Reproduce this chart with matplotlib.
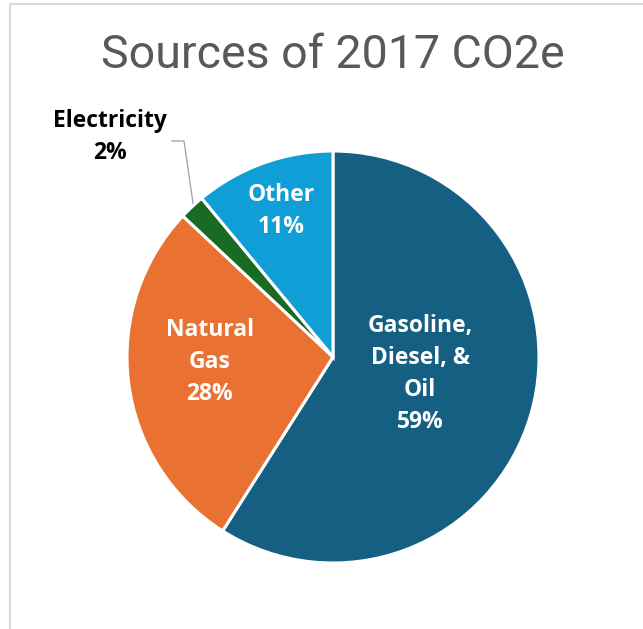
import matplotlib.pyplot as plt
from matplotlib.lines import Line2D

labels = ['Gasoline,\nDiesel, &\nOil', 'Natural\nGas', 'Electricity', 'Other']
shares = [59, 28, 2, 11]
colors = ['#156082', '#E97132', '#196B24', '#0F9ED5']

W, H = 643, 629
cx, cy, r = 333, 357, 206  # pie centre and radius in pixels


def px(x, y):
    # pixel position -> data coords of the pie (radius 1)
    return (x - cx) / r, (cy - y) / r


fig = plt.figure(figsize=(W / 100, H / 100), dpi=100)
ax = fig.add_axes([0, 0, 1, 1])

wedges, _ = ax.pie(shares, colors=colors, startangle=90, counterclock=False,
                   wedgeprops=dict(edgecolor='white', linewidth=2.2))
ax.set_aspect('auto')
ax.set_xlim(px(0, 0)[0], px(W, 0)[0])
ax.set_ylim(px(0, H)[1], px(0, 0)[1])
ax.axis('off')

lab_pos = [px(420, 374), px(210, 362), px(110, 137), px(281, 211)]
txt_col = ['white', 'white', 'black', 'white']
for lab, val, pos, c in zip(labels, shares, lab_pos, txt_col):
    ax.text(pos[0], pos[1], f'{lab}\n{val}%', ha='center', va='center',
            fontsize=16.5, fontweight='bold', color=c, family='Open Sans',
            linespacing=1.44)

# leader line for the small slice
lx, ly = zip(px(172, 141), px(184, 141), px(193, 203))
ax.plot(lx, ly, color='#a6a6a6', lw=1)

fig.text(cx / W, 1 - 55 / H, 'Sources of 2017 CO2e', ha='center', va='center',
         fontsize=33.5, color='#595959', family='Roboto')

# chart frame (left and top edges visible)
fig.add_artist(Line2D([9.5 / W, 9.5 / W], [0, 1 - 4 / H], color='#d9d9d9', lw=1.5,
                      transform=fig.transFigure))
fig.add_artist(Line2D([9.5 / W, 1], [1 - 4 / H, 1 - 4 / H], color='#d9d9d9', lw=1.5,
                      transform=fig.transFigure))

fig.savefig('out.png', dpi=100)
